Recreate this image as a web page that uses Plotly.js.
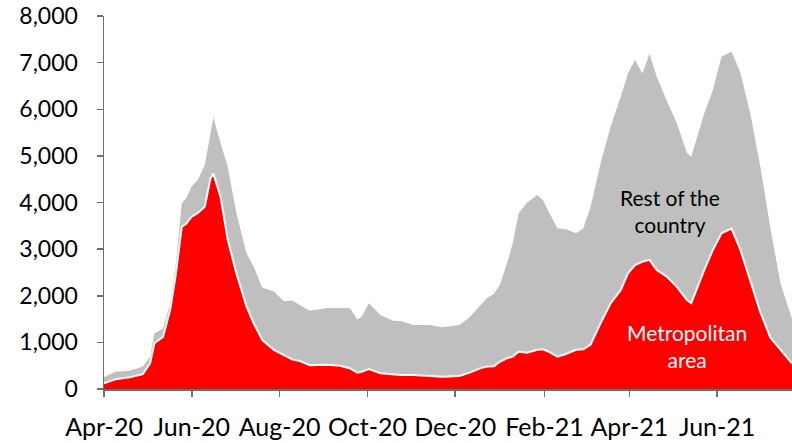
<!DOCTYPE html>
<html>
<head>
<meta charset="utf-8">
<script src="https://cdn.plot.ly/plotly-3.0.1.min.js"></script>
<style>html,body{margin:0;padding:0;background:#fff;}#chart{width:792px;height:443px;}</style>
</head>
<body>
<div id="chart"></div>
<script>
const dates = [
"2020-04-01","2020-04-09","2020-04-19","2020-04-28","2020-05-03","2020-05-06","2020-05-12","2020-05-17",
"2020-05-21","2020-05-25","2020-05-28","2020-06-01","2020-06-05","2020-06-10","2020-06-14","2020-06-16",
"2020-06-21","2020-06-26","2020-07-02","2020-07-09","2020-07-14","2020-07-20","2020-07-28","2020-08-04",
"2020-08-10","2020-08-15","2020-08-22","2020-09-03","2020-09-12","2020-09-19","2020-09-24","2020-09-27",
"2020-10-02","2020-10-10","2020-10-19","2020-10-24","2020-11-02","2020-11-13","2020-11-22","2020-12-04",
"2020-12-11","2020-12-18","2020-12-23","2020-12-28","2021-01-01","2021-01-06","2021-01-10","2021-01-14",
"2021-01-20","2021-01-27","2021-01-31","2021-02-04","2021-02-10","2021-02-16","2021-02-23","2021-02-28",
"2021-03-05","2021-03-12","2021-03-19","2021-03-26","2021-03-31","2021-04-05","2021-04-10","2021-04-15",
"2021-04-20","2021-04-27","2021-05-04","2021-05-11","2021-05-14","2021-05-23","2021-05-29","2021-06-04",
"2021-06-11","2021-06-17","2021-06-24","2021-07-01","2021-07-08","2021-07-15","2021-07-22","2021-07-23"
];
const metropolitan = [
120,210,250,320,550,980,1120,1700,
2480,3480,3540,3700,3770,3910,4520,4620,
4120,3200,2480,1770,1410,1050,840,730,
630,600,510,520,500,440,350,370,
430,340,315,300,300,280,265,280,
350,440,480,490,585,660,695,800,
780,840,850,800,695,750,840,850,
950,1410,1840,2120,2480,2660,2730,2770,
2550,2410,2190,1910,1840,2550,2980,3340,
3440,3000,2340,1650,1100,840,590,550
];
const restOfCountry = [
140,160,140,160,140,210,180,140,
220,500,550,650,710,890,960,1200,
1150,1570,1290,1140,1210,1120,1250,1150,
1270,1200,1170,1220,1240,1290,1140,1180,
1410,1250,1150,1160,1075,1095,1060,1095,
1190,1330,1465,1560,1645,2040,2430,2970,
3220,3320,3200,3000,2755,2675,2500,2600,
2950,3430,3790,4150,4290,4400,4040,4420,
4150,3775,3510,3150,3140,3360,3430,3790,
3795,3800,3575,3120,2350,1430,1040,950
];
const xTickVals = ["2020-04-01","2020-06-01","2020-08-01","2020-10-01","2020-12-01","2021-02-01","2021-04-01","2021-06-01"];
const xTickText = ["Apr-20","Jun-20","Aug-20","Oct-20","Dec-20","Feb-21","Apr-21","Jun-21"];
const yTickVals = [0,1000,2000,3000,4000,5000,6000,7000,8000];
const yTickText = ["0","1,000","2,000","3,000","4,000","5,000","6,000","7,000","8,000"];

const font = "Lato, 'Open Sans', sans-serif";
const traces = [
  {x: dates, y: metropolitan, type: "scatter", mode: "lines", stackgroup: "a", name: "Metropolitan area",
   fillcolor: "#FF0000", line: {color: "#FFFFFF", width: 2}},
  {x: dates, y: restOfCountry, type: "scatter", mode: "lines", stackgroup: "a", name: "Rest of the country",
   fillcolor: "#BFBFBF", line: {color: "#BFBFBF", width: 0}}
];
const layout = {
  width: 792, height: 443,
  margin: {l: 104, r: 0, t: 16, b: 54},
  paper_bgcolor: "#fff", plot_bgcolor: "#fff",
  showlegend: false, hovermode: false,
  font: {family: font, color: "#000"},
  xaxis: {
    type: "date", range: ["2020-04-01", "2021-07-23"],
    tickvals: xTickVals, ticktext: xTickText,
    ticks: "outside", ticklen: 6, tickwidth: 1.5, tickcolor: "#6E6E6E",
    showline: true, linecolor: "#6E6E6E", linewidth: 1.5,
    showgrid: false, zeroline: false, ticklabelstandoff: 9,
    tickfont: {family: font, size: 25, color: "#000"}
  },
  yaxis: {
    range: [0, 8001], tickvals: yTickVals, ticktext: yTickText,
    ticks: "outside", ticklen: 6, tickwidth: 1.5, tickcolor: "#6E6E6E",
    showline: true, linecolor: "#6E6E6E", linewidth: 1.5,
    showgrid: false, zeroline: false, ticklabelstandoff: 14,
    tickfont: {family: font, size: 23, color: "#000"}
  },
  annotations: [
    {xref: "paper", yref: "paper", x: 0.823, y: 0.477, xanchor: "center", yanchor: "middle",
     text: "Rest of the<br>country", showarrow: false,
     font: {family: font, size: 21, color: "#000"}, align: "center"},
    {xref: "paper", yref: "paper", x: 0.848, y: 0.115, xanchor: "center", yanchor: "middle",
     text: "Metropolitan<br>area", showarrow: false,
     font: {family: font, size: 21, color: "#FFFFFF"}, align: "center"}
  ]
};
Plotly.newPlot("chart", traces, layout, {displayModeBar: false, staticPlot: true});
</script>
</body>
</html>
